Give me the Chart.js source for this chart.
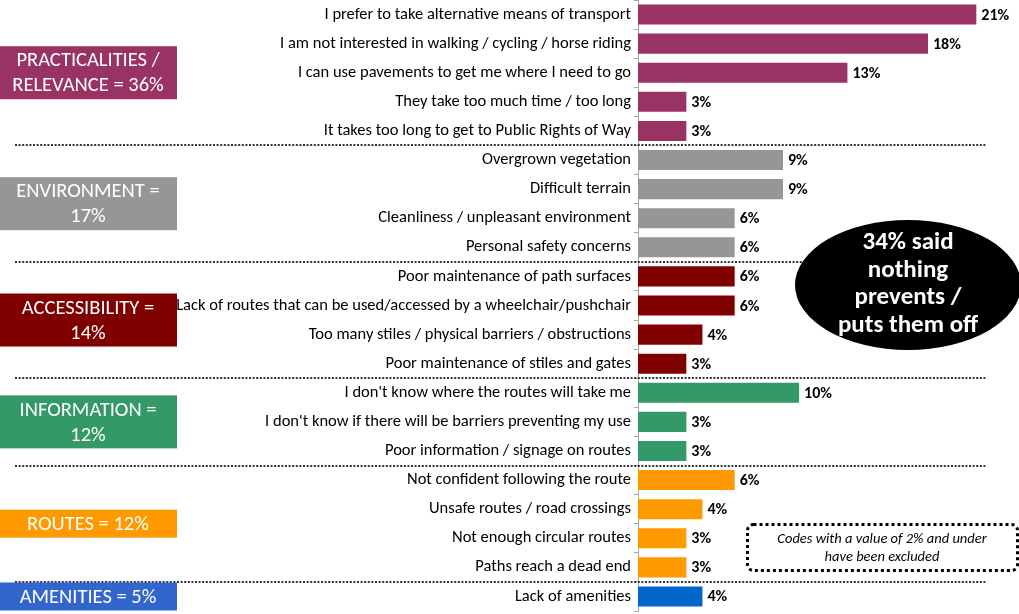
<!DOCTYPE html>
<html>
<head>
<meta charset="utf-8">
<script src="https://cdn.jsdelivr.net/npm/chart.js@4"></script>
<style>
html,body{margin:0;padding:0;background:#fff;}
canvas{display:block;}
</style>
</head>
<body>
<canvas id="c" width="1019" height="614"></canvas>
<script>
const categories = [
  "I prefer to take alternative means of transport",
  "I am not interested in walking / cycling / horse riding",
  "I can use pavements to get me where I need to go",
  "They take too much time / too long",
  "It takes too long to get to Public Rights of Way",
  "Overgrown vegetation",
  "Difficult terrain",
  "Cleanliness / unpleasant environment",
  "Personal safety concerns",
  "Poor maintenance of path surfaces",
  "Lack of routes that can be used/accessed by a wheelchair/pushchair",
  "Too many stiles / physical barriers / obstructions",
  "Poor maintenance of stiles and gates",
  "I don't know where the routes will take me",
  "I don't know if there will be barriers preventing my use",
  "Poor information / signage on routes",
  "Not confident following the route",
  "Unsafe routes / road crossings",
  "Not enough circular routes",
  "Paths reach a dead end",
  "Lack of amenities"
];
const values = [21, 18, 13, 3, 3, 9, 9, 6, 6, 6, 6, 4, 3, 10, 3, 3, 6, 4, 3, 3, 4];

const groupLabels = [
  ["PRACTICALITIES /", "RELEVANCE = 36%"],
  ["ENVIRONMENT =", "17%"],
  ["ACCESSIBILITY =", "14%"],
  ["INFORMATION =", "12%"],
  ["ROUTES = 12%"],
  ["AMENITIES = 5%"]
];
const groupSizes = [5, 4, 4, 3, 4, 1];
const groupBarColors = ["#993366", "#969696", "#800000", "#339966", "#FF9900", "#0066CC"];
const groupBoxColors = ["#993366", "#969696", "#800000", "#339966", "#FF9900", "#3366CC"];

const calloutLines = ["34% said", "nothing", "prevents /", "puts them off"];
const noteLines = ["Codes with a value of 2% and under", "have been excluded"];

const FONT = "Carlito, Lato, 'Open Sans', sans-serif";

// bar colours derived from the groups
const barColors = [];
groupSizes.forEach((n, g) => { for (let i = 0; i < n; i++) barColors.push(groupBarColors[g]); });

const decor = {
  id: 'decor',
  afterDatasetsDraw(chart) {
    const ctx = chart.ctx;
    const meta = chart.getDatasetMeta(0);
    ctx.save();
    ctx.font = "bold 16px " + FONT;
    ctx.fillStyle = "#000";
    ctx.textAlign = "left";
    ctx.textBaseline = "middle";
    meta.data.forEach((bar, i) => {
      ctx.fillText(values[i] + "%", bar.x + 5, bar.y + 1);
    });
    ctx.restore();
  },
  afterDraw(chart) {
    const ctx = chart.ctx;
    const ys = chart.scales.y;
    ctx.save();
    // separators
    let start = 0;
    const seps = [];
    const groups = [];
    groupSizes.forEach((n, g) => {
      const end = start + n - 1;
      groups.push([start, end]);
      if (g < groupSizes.length - 1) {
        seps.push((ys.getPixelForValue(end) + ys.getPixelForValue(end + 1)) / 2);
      }
      start = end + 1;
    });
    ctx.strokeStyle = "#333";
    ctx.lineWidth = 2;
    ctx.setLineDash([2, 1.6]);
    seps.forEach(y => {
      ctx.beginPath();
      ctx.moveTo(15, Math.round(y));
      ctx.lineTo(986, Math.round(y));
      ctx.stroke();
    });
    ctx.setLineDash([]);
    // group boxes
    groups.forEach(([s, e], g) => {
      const cy = (ys.getPixelForValue(s) + ys.getPixelForValue(e)) / 2;
      const lines = groupLabels[g];
      const h = lines.length === 2 ? 53 : 28;
      ctx.fillStyle = groupBoxColors[g];
      ctx.fillRect(0, cy - h / 2, 177, h);
      ctx.fillStyle = "#fff";
      ctx.font = "20.5px " + FONT;
      ctx.textAlign = "center";
      ctx.textBaseline = "middle";
      const lh = 25;
      lines.forEach((t, k) => {
        ctx.fillText(t, 88, cy + (k - (lines.length - 1) / 2) * lh + 1);
      });
    });
    // callout ellipse
    ctx.fillStyle = "#000";
    ctx.beginPath();
    ctx.ellipse(908, 285, 113, 65, 0, 0, Math.PI * 2);
    ctx.fill();
    ctx.fillStyle = "#fff";
    ctx.font = "bold 25px " + FONT;
    ctx.textAlign = "center";
    ctx.textBaseline = "middle";
    calloutLines.forEach((t, k) => ctx.fillText(t, 908, 243 + k * 27.5));
    // note box
    ctx.strokeStyle = "#000";
    ctx.lineWidth = 3;
    ctx.setLineDash([3, 3]);
    ctx.beginPath();
    ctx.roundRect(747.5, 524.5, 270, 46, 6);
    ctx.stroke();
    ctx.setLineDash([]);
    ctx.fillStyle = "#000";
    ctx.font = "italic 14.5px " + FONT;
    noteLines.forEach((t, k) => ctx.fillText(t, 882, 539 + k * 18));
    ctx.restore();
  }
};

new Chart(document.getElementById('c'), {
  type: 'bar',
  data: {
    labels: categories,
    datasets: [{
      data: values,
      backgroundColor: barColors,
      borderWidth: 0,
      barPercentage: 0.69,
      categoryPercentage: 1.0
    }]
  },
  options: {
    indexAxis: 'y',
    responsive: false,
    animation: false,
    layout: { padding: { top: 0, bottom: 3, left: 0, right: 0 } },
    plugins: { legend: { display: false }, tooltip: { enabled: false } },
    scales: {
      x: { display: false, min: 0, max: 23.65 },
      y: {
        afterFit(scale) { scale.width = 638; scale.paddingTop = 0; scale.paddingBottom = 0; },
        grid: { drawOnChartArea: false, tickLength: 4, color: "#a6a6a6", offset: true },
        border: { display: true, color: "#a6a6a6", width: 1 },
        ticks: {
          color: "#000",
          padding: 3,
          font: { family: FONT, size: 16.5 },
          autoSkip: false
        }
      }
    }
  },
  plugins: [decor]
});
</script>
</body>
</html>
